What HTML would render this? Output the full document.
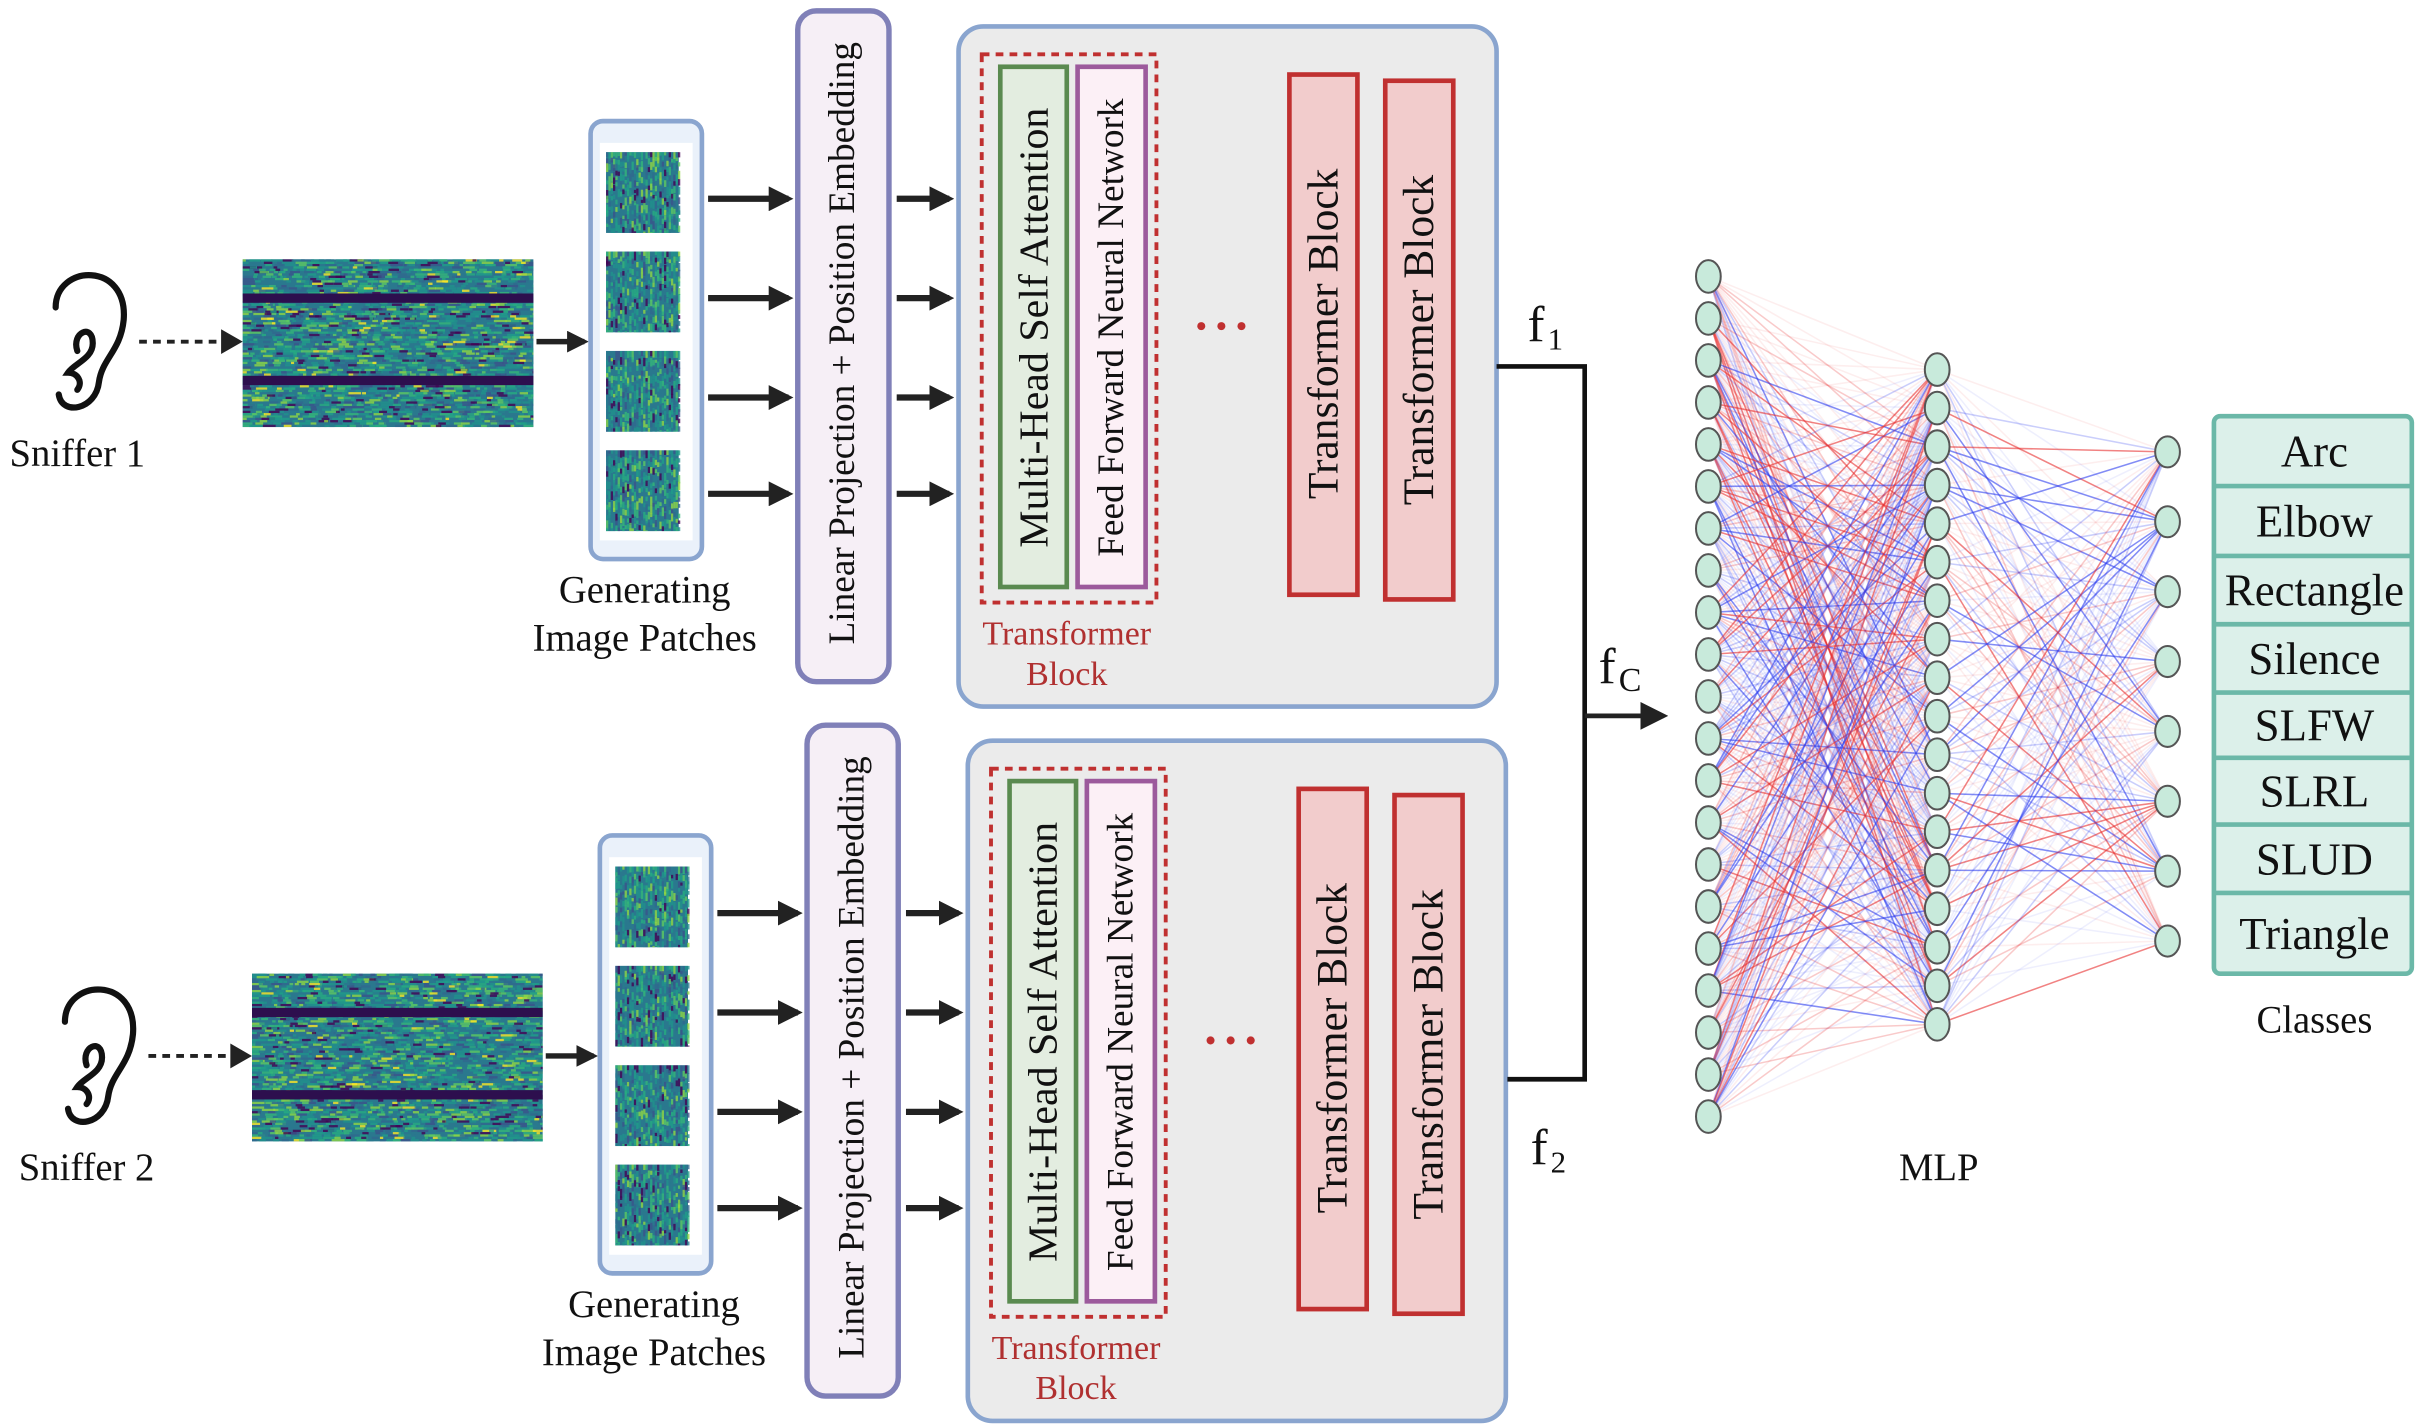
<!DOCTYPE html>
<html><head><meta charset="utf-8">
<style>
html,body{margin:0;padding:0;background:#fff;}
svg{display:block;}
text{font-family:"Liberation Serif",serif;fill:#111;}
</style></head>
<body>
<svg id="s" width="2418" height="1424" viewBox="0 0 1564 917" preserveAspectRatio="none" xmlns="http://www.w3.org/2000/svg">
<defs>
<marker id="ah" markerWidth="4" markerHeight="4" refX="3.2" refY="2" orient="auto" markerUnits="strokeWidth"><path d="M0,0 L4,2 L0,4 z" fill="#222"/></marker>
<marker id="ah2" markerWidth="6" markerHeight="6" refX="5" refY="3" orient="auto" markerUnits="strokeWidth"><path d="M0,0 L6,3 L0,6 z" fill="#222"/></marker>
</defs>
<g id="lines"></g>
<g id="row1"></g>
<g id="row2"></g>
<g id="mlp"></g>
</svg>
<script>
var NS="http://www.w3.org/2000/svg";
var seed=7;function rnd(){seed=(seed*16807)%2147483647;return seed/2147483647;}
function el(p,t,a,txt){var e=document.createElementNS(NS,t);for(var k in a)e.setAttribute(k,a[k]);if(txt)e.textContent=txt;p.appendChild(e);return e;}
var vir=["#440154","#3b528b","#21918c","#2a788e","#27ad81","#5ec962","#1f9e89","#35b779","#31688e","#2a788e","#21918c","#90d743"];
function spec(g,x,y,w,h,vertical){
  el(g,"rect",{x:x,y:y,width:w,height:h,fill:"#2a788e"});
  if(!vertical){
    for(var r=0;r<h;r+=1.5){for(var c=0;c<w;c+=3+rnd()*6){var cw=2+rnd()*7;var col=vir[Math.floor(rnd()*vir.length)];if(rnd()<0.03)col="#fde725";el(g,"rect",{x:x+c,y:y+r,width:Math.min(cw,w-c),height:1.5,fill:col,opacity:0.8});}}
  } else {
    for(var c=0;c<w;c+=1.5){for(var r=0;r<h;r+=3+rnd()*4){var rh=2+rnd()*4;var col=vir[Math.floor(rnd()*vir.length)];el(g,"rect",{x:x+c,y:y+r,width:1.5,height:Math.min(rh,h-r),fill:col,opacity:0.8});}}
  }
}
function ear(g,x,y){
  el(g,"path",{d:"M"+(x+8)+","+(y+22)+" C"+(x+8)+","+(y-6)+" "+(x+55)+","+(y-8)+" "+(x+52)+","+(y+30)+" C"+(x+50)+","+(y+50)+" "+(x+38)+","+(y+55)+" "+(x+36)+","+(y+70)+" C"+(x+34)+","+(y+88)+" "+(x+12)+","+(y+92)+" "+(x+10)+","+(y+78)+" M"+(x+22)+","+(y+50)+" C"+(x+18)+","+(y+38)+" "+(x+32)+","+(y+32)+" "+(x+32)+","+(y+45)+" C"+(x+32)+","+(y+55)+" "+(x+20)+","+(y+58)+" "+(x+16)+","+(y+64)+" C"+(x+22)+","+(y+64)+" "+(x+26)+","+(y+70)+" "+(x+22)+","+(y+75),fill:"none",stroke:"#111","stroke-width":4,"stroke-linecap":"round"});
}
function arrow(g,x1,y,x2,w,m){el(g,"line",{x1:x1,y1:y,x2:x2,y2:y,stroke:"#222","stroke-width":w||4,"marker-end":"url(#"+(m||"ah")+")"});}
function vtext(g,cx,cy,s,size){var t=el(g,"text",{x:0,y:0,"font-size":size,"text-anchor":"middle","dominant-baseline":"central",transform:"translate("+cx+","+cy+") rotate(-90)"},s);return t;}
function row(g,dx,dy,n){
  ear(g,28+dx,176+dy);
  el(g,"text",{x:50+dx,y:300+dy,"font-size":25,"text-anchor":"middle"},"Sniffer "+n);
  el(g,"line",{x1:90+dx,y1:220+dy,x2:152+dx,y2:220+dy,stroke:"#222","stroke-width":2.5,"stroke-dasharray":"5,4"});
  el(g,"path",{d:"M"+(143+dx)+","+(212+dy)+" L"+(157+dx)+","+(220+dy)+" L"+(143+dx)+","+(228+dy)+"z",fill:"#222"});
  spec(g,157+dx,167+dy,188,108,false);
  el(g,"rect",{x:157+dx,y:189+dy,width:188,height:6,fill:"#2d0f4e"});
  el(g,"rect",{x:157+dx,y:242+dy,width:188,height:6,fill:"#2d0f4e"});
  arrow(g,347+dx,220+dy,378+dx,3.5);
  el(g,"rect",{x:382+dx,y:78+dy,width:72,height:282,rx:8,fill:"#eaf1fa",stroke:"#8aa5cf","stroke-width":3});
  el(g,"rect",{x:388+dx,y:92+dy,width:60,height:256,fill:"#fff"});
  [98,162,226,290].forEach(function(py){spec(g,392+dx,py+dy,47,52,true);});
  el(g,"text",{x:417+dx,y:388+dy,"font-size":25,"text-anchor":"middle"},"Generating");
  el(g,"text",{x:417+dx,y:419+dy,"font-size":25,"text-anchor":"middle"},"Image Patches");
  [128,192,256,318].forEach(function(py){arrow(g,458+dx,py+dy,510+dx,4);arrow(g,580+dx,py+dy,614+dx,4);});
  el(g,"rect",{x:516+dx,y:7+dy,width:59,height:432,rx:12,fill:"#f6eff6",stroke:"#8080b8","stroke-width":3.5});
  vtext(g,545+dx,221+dy,"Linear Projection + Position Embedding",24);
  el(g,"rect",{x:620+dx,y:17+dy,width:348,height:438,rx:16,fill:"#ebebeb",stroke:"#8aa5cf","stroke-width":3});
  el(g,"rect",{x:635+dx,y:35+dy,width:113,height:353,fill:"none",stroke:"#c03030","stroke-width":2.5,"stroke-dasharray":"5,4"});
  el(g,"rect",{x:647+dx,y:43+dy,width:43,height:335,fill:"#e3ede0",stroke:"#5a8a50","stroke-width":3});
  vtext(g,669+dx,211+dy,"Multi-Head Self Attention",27);
  el(g,"rect",{x:697+dx,y:43+dy,width:44,height:335,fill:"#fcf0f6",stroke:"#9c5a9c","stroke-width":3});
  vtext(g,719+dx,211+dy,"Feed Forward Neural Network",24);
  el(g,"text",{x:690+dx,y:415+dy,"font-size":22,"text-anchor":"middle",style:"fill:#b03030"},"Transformer");
  el(g,"text",{x:690+dx,y:441+dy,"font-size":22,"text-anchor":"middle",style:"fill:#b03030"},"Block");
  [777,790,803].forEach(function(cx){el(g,"circle",{cx:cx+dx,cy:210+dy,r:2.6,fill:"#c03030"});});
  el(g,"rect",{x:834+dx,y:48+dy,width:44,height:335,fill:"#f2cccc",stroke:"#c03030","stroke-width":3});
  vtext(g,856+dx,215+dy,"Transformer Block",28);
  el(g,"rect",{x:896+dx,y:52+dy,width:44,height:334,fill:"#f2cccc",stroke:"#c03030","stroke-width":3});
  vtext(g,918+dx,219+dy,"Transformer Block",28);
}
row(document.getElementById("row1"),0,0,1);
row(document.getElementById("row2"),6,460,2);
var m=document.getElementById("mlp");
el(m,"polyline",{points:"968,236 1025,236 1025,695 975,695",fill:"none",stroke:"#111","stroke-width":3});
arrow(m,1025,461,1076,3,"ah2");
el(m,"text",{x:988,y:220,"font-size":33},"f");el(m,"text",{x:1001,y:225,"font-size":20},"1");
el(m,"text",{x:1034,y:440,"font-size":33},"f");el(m,"text",{x:1047,y:445,"font-size":22},"C");
el(m,"text",{x:990,y:750,"font-size":33},"f");el(m,"text",{x:1003,y:755,"font-size":20},"2");
var L1=[],L2=[],L3=[];
for(var i=0;i<21;i++)L1.push(178+i*27.05);
for(var i=0;i<18;i++)L2.push(238+i*24.8);
for(var i=0;i<8;i++)L3.push(291+i*45);
var lg=document.getElementById("lines");
function conn(A,xa,B,xb){A.forEach(function(ya){B.forEach(function(yb){var r=rnd();var col=rnd()<0.5?"#e83030":"#3040f0";var op=r<0.25?0.6:(r<0.55?0.25:0.08);el(lg,"line",{x1:xa,y1:ya,x2:xb,y2:yb,stroke:col,"stroke-width":1,opacity:op});});});}
conn(L1,1105,L2,1253);conn(L2,1253,L3,1402);
function nodes(A,x,ry){A.forEach(function(y){el(m,"ellipse",{cx:x,cy:y,rx:8,ry:ry,fill:"#c8eadb",stroke:"#555","stroke-width":1.3});});}
nodes(L1,1105,10.5);nodes(L2,1253,10.5);nodes(L3,1402,10);
el(m,"text",{x:1254,y:760,"font-size":25,"text-anchor":"middle"},"MLP");
el(m,"rect",{x:1432,y:268,width:128,height:359,rx:4,fill:"#dcf0ea",stroke:"#6bb8a8","stroke-width":3});
var cls=["Arc","Elbow","Rectangle","Silence","SLFW","SLRL","SLUD","Triangle"];
var ys=[268,313,358,402,446,488,531,575,627];
for(var i=0;i<8;i++){
  if(i>0)el(m,"line",{x1:1432,y1:ys[i],x2:1560,y2:ys[i],stroke:"#6bb8a8","stroke-width":3});
  el(m,"text",{x:1497,y:(ys[i]+ys[i+1])/2+10,"font-size":29,"text-anchor":"middle"},cls[i]);
}
el(m,"text",{x:1497,y:665,"font-size":25,"text-anchor":"middle"},"Classes");
</script>
</body></html>
